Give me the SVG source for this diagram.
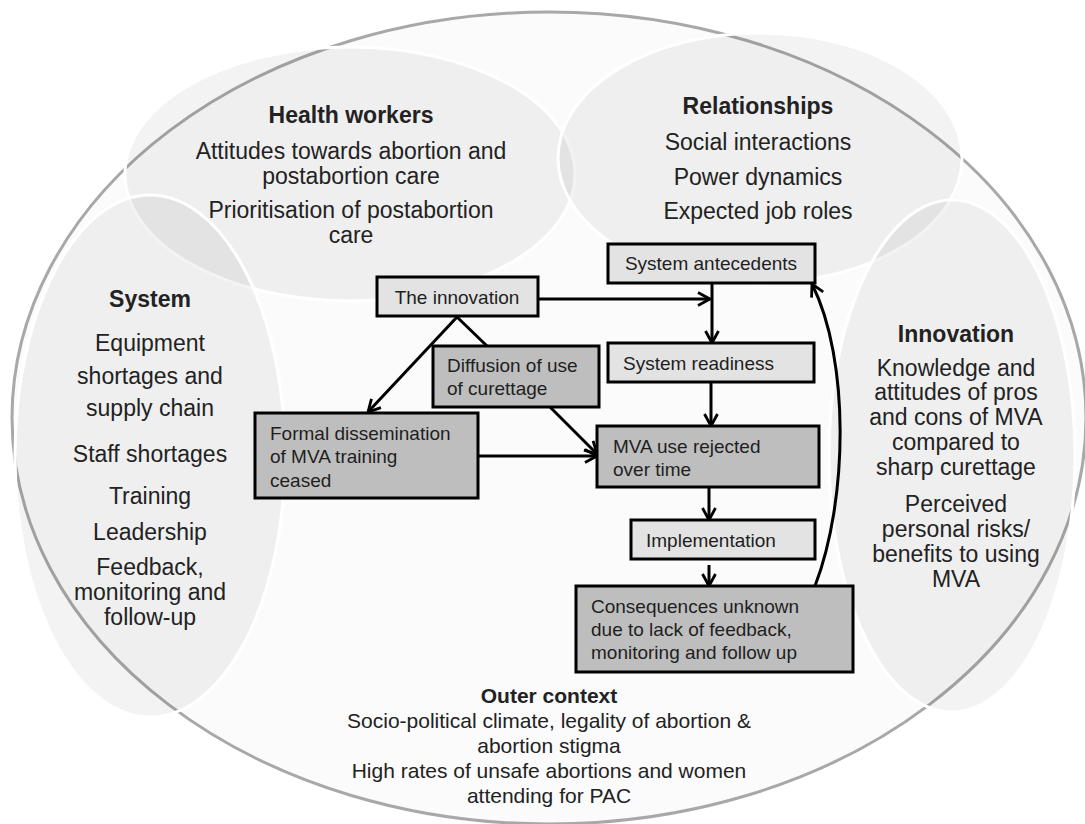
<svg xmlns="http://www.w3.org/2000/svg" width="1085" height="824" viewBox="0 0 1085 824">
  <style>
    .zone { fill: #000; fill-opacity: 0.048; stroke: #fff; stroke-width: 3; }
    .ztxt { font-family: "Liberation Sans", Arial, sans-serif; font-size: 23px; fill: #222; text-anchor: middle; }
    .zhead { font-weight: bold; }
    .otxt { font-family: "Liberation Sans", Arial, sans-serif; font-size: 21px; fill: #222; text-anchor: middle; }
    .box { stroke: #000; stroke-width: 3; }
    .light { fill: #e3e3e3; }
    .dark { fill: #bebebe; }
    .btxt { font-family: "Liberation Sans", Arial, sans-serif; font-size: 19px; fill: #1e1e1e; }
    .edge { fill: none; stroke: #000; stroke-width: 3; }
  </style>
  <defs>
    <marker id="arr" viewBox="0 0 16 16" refX="14" refY="8" markerWidth="16" markerHeight="16" markerUnits="userSpaceOnUse" orient="auto">
      <path d="M2,1.5 L14,8 L2,14.5" fill="none" stroke="#000" stroke-width="2.8"/>
    </marker>
  </defs>

  <rect width="1085" height="824" fill="#fff"/>

  <!-- outer context -->
  <g id="outer-context">
    <ellipse cx="549" cy="418" rx="537" ry="406" fill="#fbfbfb" stroke="#a8a8a8" stroke-width="3"/>
    <text class="otxt zhead" x="549" y="703">Outer context</text>
    <text class="otxt" x="549" y="728">Socio-political climate, legality of abortion &amp;</text>
    <text class="otxt" x="549" y="753">abortion stigma</text>
    <text class="otxt" x="549" y="778">High rates of unsafe abortions and women</text>
    <text class="otxt" x="549" y="803">attending for PAC</text>
  </g>

  <!-- inner domains -->
  <g id="health-workers">
    <ellipse class="zone" cx="350" cy="174" rx="225" ry="127"/>
  </g>
  <g id="relationships">
    <ellipse class="zone" cx="760" cy="158" rx="202" ry="125"/>
  </g>
  <g id="system">
    <ellipse class="zone" cx="150" cy="456" rx="135" ry="261"/>
  </g>
  <g id="innovation">
    <ellipse class="zone" cx="952" cy="456" rx="123" ry="256"/>
  </g>

  <g id="health-workers-text">
    <text class="ztxt zhead" x="351" y="123">Health workers</text>
    <text class="ztxt" x="351" y="159">Attitudes towards abortion and</text>
    <text class="ztxt" x="351" y="184">postabortion care</text>
    <text class="ztxt" x="351" y="218">Prioritisation of postabortion</text>
    <text class="ztxt" x="351" y="243">care</text>
  </g>
  <g id="relationships-text">
    <text class="ztxt zhead" x="758" y="114">Relationships</text>
    <text class="ztxt" x="758" y="150">Social interactions</text>
    <text class="ztxt" x="758" y="185">Power dynamics</text>
    <text class="ztxt" x="758" y="219">Expected job roles</text>
  </g>
  <g id="system-text">
    <text class="ztxt zhead" x="150" y="307">System</text>
    <text class="ztxt" x="150" y="351">Equipment</text>
    <text class="ztxt" x="150" y="384">shortages and</text>
    <text class="ztxt" x="150" y="416">supply chain</text>
    <text class="ztxt" x="150" y="462">Staff shortages</text>
    <text class="ztxt" x="150" y="504">Training</text>
    <text class="ztxt" x="150" y="540">Leadership</text>
    <text class="ztxt" x="150" y="575">Feedback,</text>
    <text class="ztxt" x="150" y="600">monitoring and</text>
    <text class="ztxt" x="150" y="625">follow-up</text>
  </g>
  <g id="innovation-text">
    <text class="ztxt zhead" x="956" y="342">Innovation</text>
    <text class="ztxt" x="956" y="376">Knowledge and</text>
    <text class="ztxt" x="956" y="400">attitudes of pros</text>
    <text class="ztxt" x="956" y="425">and cons of MVA</text>
    <text class="ztxt" x="956" y="450">compared to</text>
    <text class="ztxt" x="956" y="475">sharp curettage</text>
    <text class="ztxt" x="956" y="512">Perceived</text>
    <text class="ztxt" x="956" y="537">personal risks/</text>
    <text class="ztxt" x="956" y="562">benefits to using</text>
    <text class="ztxt" x="956" y="587">MVA</text>
  </g>

  <!-- connectors -->
  <g id="connectors">
    <path class="edge" d="M538,299 L710,299" marker-end="url(#arr)"/>
    <path class="edge" d="M712,283 L712,343" marker-end="url(#arr)"/>
    <path class="edge" d="M457,317 L368,412" marker-end="url(#arr)"/>
    <path class="edge" d="M457,317 L487,346"/>
    <path class="edge" d="M550,407 L597,454" marker-end="url(#arr)"/>
    <path class="edge" d="M478,456 L597,456" marker-end="url(#arr)"/>
    <path class="edge" d="M711,382 L711,426" marker-end="url(#arr)"/>
    <path class="edge" d="M709,487 L709,520" marker-end="url(#arr)"/>
    <path class="edge" d="M709,565 L709,586" marker-end="url(#arr)"/>
    <path class="edge" d="M815,586 C848,500 850,360 812,284" marker-end="url(#arr)"/>
  </g>

  <!-- process boxes -->
  <g id="the-innovation">
    <rect class="box light" x="377" y="277" width="161" height="39"/>
    <text class="btxt" x="457" y="304" text-anchor="middle">The innovation</text>
  </g>
  <g id="system-antecedents">
    <rect class="box light" x="608" y="244" width="207" height="39"/>
    <text class="btxt" x="711" y="270" text-anchor="middle">System antecedents</text>
  </g>
  <g id="system-readiness">
    <rect class="box light" x="608" y="343" width="206" height="39"/>
    <text class="btxt" x="623" y="370">System readiness</text>
  </g>
  <g id="diffusion">
    <rect class="box dark" x="433" y="346" width="166" height="61"/>
    <text class="btxt" x="447" y="372">Diffusion of use</text>
    <text class="btxt" x="447" y="395">of curettage</text>
  </g>
  <g id="formal-dissemination">
    <rect class="box dark" x="255" y="413" width="223" height="85"/>
    <text class="btxt" x="270" y="440">Formal dissemination</text>
    <text class="btxt" x="270" y="463">of MVA training</text>
    <text class="btxt" x="270" y="487">ceased</text>
  </g>
  <g id="mva-rejected">
    <rect class="box dark" x="597" y="426" width="222" height="61"/>
    <text class="btxt" x="613" y="453">MVA use rejected</text>
    <text class="btxt" x="613" y="476">over time</text>
  </g>
  <g id="implementation">
    <rect class="box light" x="631" y="520" width="184" height="39"/>
    <text class="btxt" x="646" y="547">Implementation</text>
  </g>
  <g id="consequences">
    <rect class="box dark" x="576" y="586" width="277" height="86"/>
    <text class="btxt" x="591" y="613">Consequences unknown</text>
    <text class="btxt" x="591" y="636">due to lack of feedback,</text>
    <text class="btxt" x="591" y="659">monitoring and follow up</text>
  </g>
</svg>
